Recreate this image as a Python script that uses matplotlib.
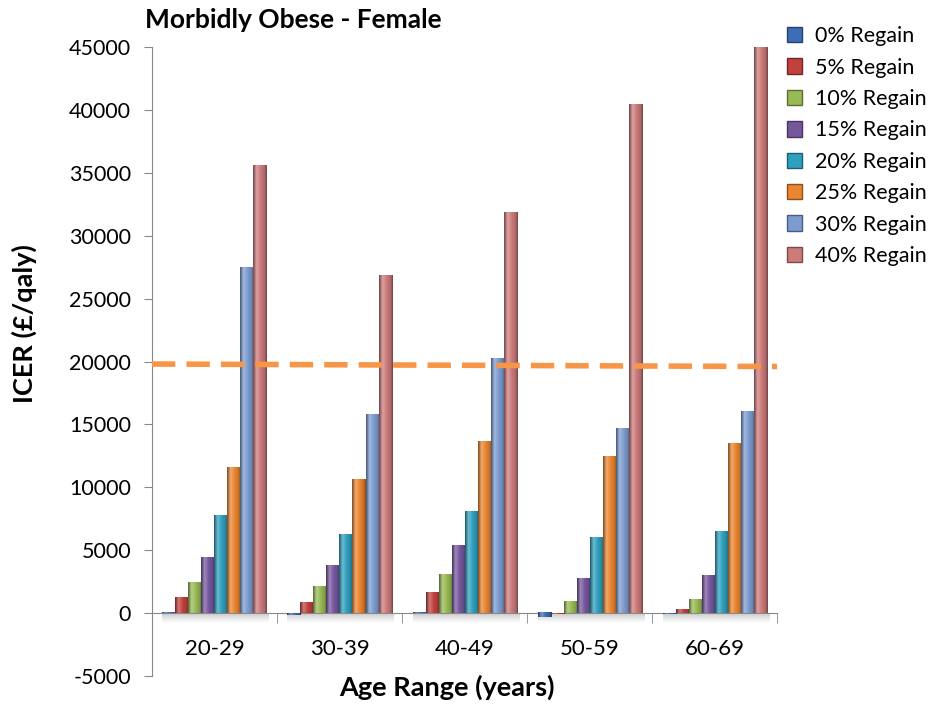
import numpy as np
import matplotlib
matplotlib.use("Agg")
import matplotlib.pyplot as plt
from matplotlib.colors import to_rgb, LinearSegmentedColormap
from matplotlib.patches import Patch

plt.rcParams['font.family'] = ['Lato', 'DejaVu Sans']
plt.rcParams['axes.unicode_minus'] = False

age_ranges = ["20-29", "30-39", "40-49", "50-59", "60-69"]
series_names = ["0% Regain", "5% Regain", "10% Regain", "15% Regain",
                "20% Regain", "25% Regain", "30% Regain", "40% Regain"]

regain_0 = [60, -120, 30, -330, -60]
regain_5 = [1200, 800, 1600, -60, 250]
regain_10 = [2460, 2070, 3100, 950, 1110]
regain_15 = [4450, 3800, 5330, 2780, 3020]
regain_20 = [7790, 6280, 8100, 6040, 6440]
regain_25 = [11600, 10650, 13600, 12480, 13510]
regain_30 = [27500, 15800, 20200, 14630, 15980]
regain_40 = [35600, 26800, 31800, 40460, 46500]
series_values = [regain_0, regain_5, regain_10, regain_15,
                 regain_20, regain_25, regain_30, regain_40]

colors = ["#3D6DB5", "#C0413E", "#98B954", "#76579E",
          "#2F9FBE", "#EA8530", "#7C9BD0", "#CC7A7A"]

threshold_start, threshold_end = 19800, 19600

Y_MIN, Y_MAX = -5000, 45000

fig = plt.figure(figsize=(9.4, 7.04), dpi=100)
ax = fig.add_axes([0.1617, 0.0398, 0.6649, 0.8934])

n = len(series_values)
x = np.arange(len(age_ranges))
width = 0.104
offsets = (np.arange(n) - (n - 1) / 2) * width


def shaded(patch, color):
    """Paint a bevel-like horizontal gradient over a bar."""
    c = np.array(to_rgb(color))
    dark = c * 0.55
    light = c + (1 - c) * 0.30
    cmap = LinearSegmentedColormap.from_list(
        "bar", [(0, dark), (0.25, light), (0.55, c), (0.85, c * 0.85), (1, dark)])
    bx, by = patch.get_x(), patch.get_y()
    bw, bh = patch.get_width(), patch.get_height()
    lo, hi = sorted((by, by + bh))
    lo, hi = max(lo, Y_MIN), min(hi, Y_MAX)
    grad = np.linspace(0, 1, 64).reshape(1, -1)
    ax.imshow(grad, cmap=cmap, aspect="auto",
              extent=(bx, bx + bw, lo, hi), zorder=3,
              interpolation="bilinear")


# soft shadow under each group of bars
shadow = LinearSegmentedColormap.from_list(
    "shadow", [(0, (0.72, 0.72, 0.72)), (1, (1, 1, 1))])
for xi in x:
    ax.imshow(np.linspace(0, 1, 32).reshape(-1, 1), cmap=shadow, aspect="auto",
              extent=(xi + offsets[0] - width / 2, xi + offsets[-1] + width / 2 + 0.02,
                      -750, 0), origin="upper", zorder=1, alpha=0.7,
              interpolation="bilinear")

for i, (vals, col) in enumerate(zip(series_values, colors)):
    bars = ax.bar(x + offsets[i], vals, width, color=col, zorder=2,
                  linewidth=0)
    for p in bars:
        shaded(p, col)

# threshold line
ax.plot([-0.5, len(age_ranges) - 0.5], [threshold_start, threshold_end],
        color="#F79646", lw=4.0, ls=(0, (4.2, 2.0)), zorder=4,
        solid_capstyle="butt")

ax.set_xlim(-0.5, len(age_ranges) - 0.5)
ax.set_ylim(Y_MIN, Y_MAX)
ax.set_yticks(np.arange(Y_MIN, Y_MAX + 1, 5000))
ax.tick_params(axis="y", labelsize=15.5, length=6, color="#888888",
               direction="out", pad=9)

for s in ["top", "right"]:
    ax.spines[s].set_visible(False)
ax.spines["left"].set_color("#888888")
ax.spines["bottom"].set_position(("data", 0))
ax.spines["bottom"].set_color("#888888")
ax.spines["bottom"].set_zorder(1.5)

ax.set_xticks(x)
ax.set_xticklabels(age_ranges)
ax.tick_params(axis="x", which="major", length=0, labelsize=16, pad=19)
ax.set_xticks(np.arange(-0.5, len(age_ranges)), minor=True)
ax.tick_params(axis="x", which="minor", length=7, color="#888888",
               direction="out")

ax.set_ylabel("ICER (£/qaly)", fontsize=19.5, fontweight="bold")
ax.yaxis.set_label_coords(-0.184, 0.56)
fig.text(0.4755, 0.023, "Age Range (years)", fontsize=19.5, fontweight="bold",
         ha="center", va="center")
fig.text(0.154, 0.972, "Morbidly Obese - Female", fontsize=19,
         fontweight="bold", ha="left", va="center")

handles = [Patch(facecolor=c, edgecolor=np.array(to_rgb(c)) * 0.6)
           for c in colors]
fig.legend(handles, series_names, loc="upper left",
           bbox_to_anchor=(0.828, 0.975), frameon=False, fontsize=15.5,
           handlelength=0.72, handleheight=0.72, handletextpad=0.6,
           labelspacing=0.53, borderaxespad=0)

fig.savefig("out.png", dpi=100)
